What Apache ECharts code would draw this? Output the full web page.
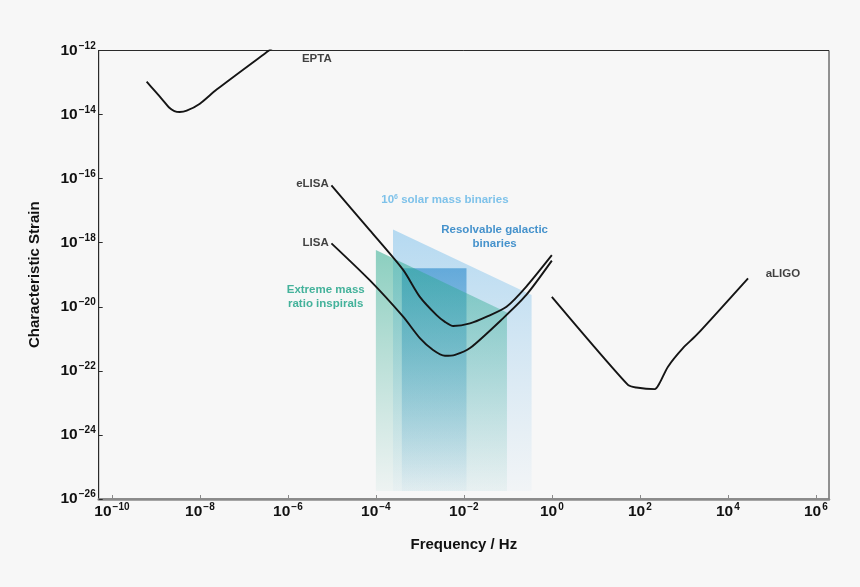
<!DOCTYPE html>
<html>
<head>
<meta charset="utf-8">
<script src="https://cdn.jsdelivr.net/npm/echarts@6/dist/echarts.min.js"></script>
<style>
html, body { margin: 0; padding: 0; background: #f7f7f7; }
#main { width: 860px; height: 587px; }
</style>
</head>
<body>
<div id="main"></div>
<script>
// all values are log10: [log10(frequency / Hz), log10(characteristic strain)]
var eptaCurve = [[-9.21, -12.97], [-9.02, -13.27], [-8.83, -13.57], [-8.70, -13.78], [-8.58, -13.89],
	[-8.46, -13.92], [-8.30, -13.88], [-8.0, -13.66], [-7.62, -13.22], [-6.43, -12.0], [-6.2, -11.77]];
var elisaCurve = [[-5.01, -16.21], [-4.14, -17.61], [-3.38, -18.85], [-3.0, -19.69], [-2.62, -20.26],
	[-2.43, -20.47], [-2.24, -20.60], [-1.86, -20.52], [-1.48, -20.31], [-1.03, -20.0],
	[-0.58, -19.37], [0.0, -18.39]];
var lisaCurve = [[-5.01, -18.02], [-4.14, -19.17], [-3.38, -20.31], [-3.0, -20.98], [-2.70, -21.35],
	[-2.43, -21.53], [-2.20, -21.50], [-1.86, -21.29], [-1.11, -20.36], [-0.58, -19.63], [0.0, -18.56]];
var aligoCurve = [[0.0, -19.69], [1.73, -22.44], [1.92, -22.52], [2.34, -22.57], [2.45, -22.38],
	[2.64, -21.87], [2.98, -21.29], [3.29, -20.88], [4.46, -19.11]];

// shaded source regions: top edge, filled down to regionFloor
var smbhRegion = [[-3.61, -17.59], [-0.46, -19.63]];
var galacticRegion = [[-3.41, -18.80], [-1.94, -18.80]];
var emriRegion = [[-4.0, -18.23], [-1.02, -20.18]];
var regionFloor = -25.75;

var xTicks = [-10, -8, -6, -4, -2, 0, 2, 4, 6];
var yTicks = [-26, -24, -22, -20, -18, -16, -14, -12];

var FONT = '"Liberation Sans", Arial, sans-serif';

function powLabel(v) {
	return '{b|10}{s|' + (v < 0 ? '\u2212' : '') + Math.abs(v) + '}';
}

var powRich = {
	b: { fontSize: 15.5, fontWeight: 'bold', fontFamily: FONT, color: '#111' },
	s: { fontSize: 10, fontWeight: 'bold', fontFamily: FONT, color: '#111', padding: [0, 0, 9, 1] }
};

function curve(name, data) {
	return {
		name: name,
		type: 'line',
		data: data,
		smooth: 0.25,
		symbol: 'none',
		clip: true,
		silent: true,
		z: 5,
		lineStyle: { color: '#151515', width: 1.9 }
	};
}

function region(name, data, top, bottom) {
	return {
		name: name,
		type: 'line',
		data: data,
		symbol: 'none',
		silent: true,
		z: 2,
		lineStyle: { width: 0 },
		areaStyle: {
			origin: regionFloor,
			opacity: 1,
			color: new echarts.graphic.LinearGradient(0, 0, 0, 1, [
				{ offset: 0, color: top },
				{ offset: 1, color: bottom }
			])
		}
	};
}

function note(pos, text, color, align, extra) {
	var lab = {
		show: true,
		position: 'inside',
		formatter: text,
		color: color,
		fontSize: 11.5,
		fontWeight: 'bold',
		fontFamily: FONT,
		align: align,
		verticalAlign: 'middle',
		lineHeight: 14
	};
	if (extra) {
		for (var k in extra) lab[k] = extra[k];
	}
	return { value: pos, label: lab };
}

var myChart = echarts.init(document.getElementById('main'));

var option = {
	backgroundColor: '#f7f7f7',
	animation: false,
	grid: {
		left: 98.7,
		right: 31,
		top: 50.5,
		bottom: 88,
		show: true,
		borderColor: '#2a2a2a',
		borderWidth: 1,
		backgroundColor: '#f7f7f7'
	},
	xAxis: {
		type: 'value',
		min: -10.3,
		max: 6.3,
		name: 'Frequency / Hz',
		nameLocation: 'middle',
		nameGap: 38,
		nameTextStyle: { fontSize: 15, fontWeight: 'bold', fontFamily: FONT, color: '#111' },
		splitLine: { show: false },
		axisLine: { show: true, onZero: false, lineStyle: { color: '#8a8a8a', width: 2.5 } },
		axisTick: { show: true, inside: true, length: 4, lineStyle: { color: '#8a8a8a', width: 1 }, customValues: xTicks },
		axisLabel: { customValues: xTicks, margin: 3, formatter: powLabel, rich: powRich }
	},
	yAxis: {
		type: 'value',
		min: -26,
		max: -12,
		interval: 2,
		name: 'Characteristic Strain',
		nameLocation: 'middle',
		nameGap: 56,
		nameRotate: 90,
		nameTextStyle: { fontSize: 15, fontWeight: 'bold', fontFamily: FONT, color: '#111' },
		splitLine: { show: false },
		axisLine: { show: true, onZero: false, lineStyle: { color: '#2a2a2a', width: 1 } },
		axisTick: { show: true, inside: true, length: 4, lineStyle: { color: '#2a2a2a' } },
		axisLabel: { margin: 3, formatter: powLabel, rich: powRich }
	},
	series: [
		region('10^6 solar mass binaries', smbhRegion, 'rgba(120,190,235,0.52)', 'rgba(150,200,235,0.06)'),
		region('Resolvable galactic binaries', galacticRegion, 'rgba(30,130,200,0.57)', 'rgba(60,150,210,0.04)'),
		region('Extreme mass ratio inspirals', emriRegion, 'rgba(40,170,140,0.52)', 'rgba(60,170,150,0.05)'),
		curve('EPTA', eptaCurve),
		curve('eLISA', elisaCurve),
		curve('LISA', lisaCurve),
		curve('aLIGO', aligoCurve),
		{
			type: 'scatter',
			symbolSize: 0,
			silent: true,
			z: 10,
			data: [
				note([-5.68, -12.25], 'EPTA', '#111', 'left'),
				note([-5.07, -16.17], 'eLISA', '#111', 'right'),
				note([-5.07, -18.01], 'LISA', '#111', 'right'),
				note([4.86, -18.98], 'aLIGO', '#111', 'left'),
				note([-2.43, -16.67], '{t|10}{e|6}{t| solar mass binaries}', '#62b6e6', 'center', {
					rich: {
						t: { fontSize: 11.5, fontWeight: 'bold', fontFamily: FONT, color: '#5fb4e6' },
						e: { fontSize: 7, fontWeight: 'bold', fontFamily: FONT, color: '#5fb4e6', padding: [0, 0, 6, 0] }
					}
				}),
				note([-1.30, -17.83], 'Resolvable galactic\nbinaries', '#1878c0', 'center'),
				note([-5.14, -19.69], 'Extreme mass\nratio inspirals', '#16a083', 'center')
			]
		}
	]
};

myChart.setOption(option);
</script>
</body>
</html>
